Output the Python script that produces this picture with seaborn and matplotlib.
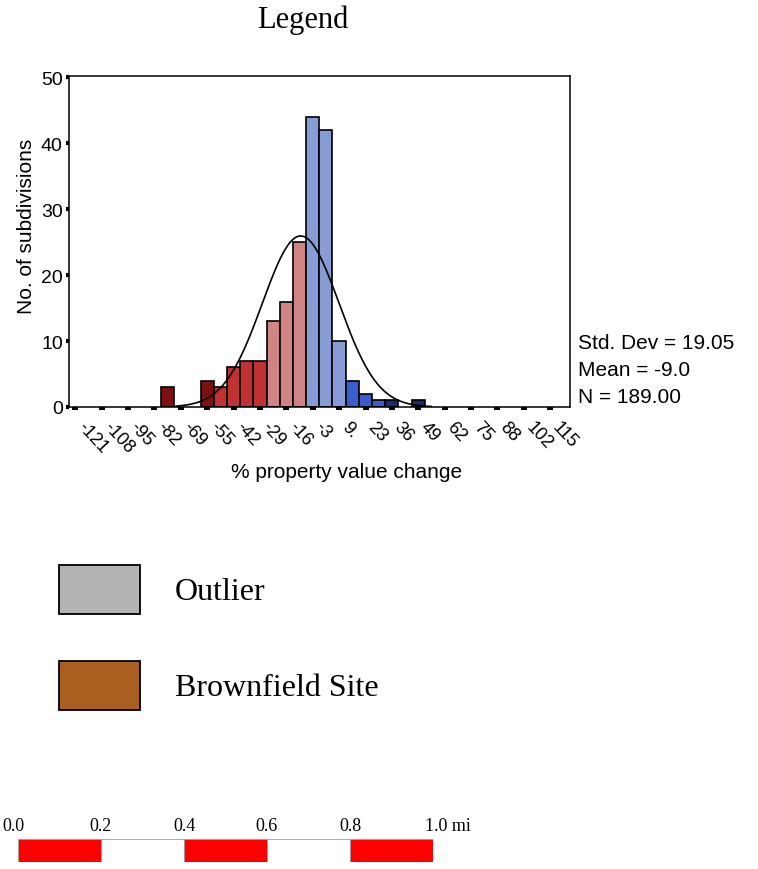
import numpy as np
import pandas as pd
import seaborn as sns
import matplotlib.pyplot as plt
from matplotlib.patches import Rectangle
from matplotlib.transforms import ScaledTranslation

# histogram bins (bin width 6.555, only non-empty bins listed)
bin_mid = [-75.1, -55.45, -48.9, -42.34, -35.79, -29.23, -22.68, -16.12, -9.57,
           -3.01, 3.55, 10.1, 16.66, 23.21, 29.77, 36.32, 49.43]
counts = [3, 4, 3, 6, 7, 7, 13, 16, 25, 44, 42, 10, 4, 2, 1, 1, 1]
bar_group = ['dark', 'dark', 'red', 'red', 'red', 'red', 'pink', 'pink', 'pink',
             'ltblue', 'ltblue', 'ltblue', 'blue', 'blue', 'blue', 'navy', 'navy']
group_colors = {'dark': '#7d1010', 'red': '#c03232', 'pink': '#d08484',
                'ltblue': '#879bd4', 'blue': '#3a5fcd', 'navy': '#162d6e'}
bin_width = 6.555
x_range = (-124.3, 124.79)

tick_vals = [-121.0, -107.89, -94.78, -81.67, -68.56, -55.45, -42.34, -29.23, -16.12,
             -3.01, 10.1, 23.21, 36.32, 49.43, 62.54, 75.65, 88.76, 101.87, 114.98]
tick_labels = ['-121', '-108', '-95', '-82', '-69', '-55', '-42', '-29', '-16', '-3',
               '9.', '23', '36', '49', '62', '75', '88', '102', '115']

std_dev = 19.05
mean = -9.0
n_obs = 189

legend_labels = ['Outlier', 'Brownfield Site']
legend_colors = ['#b4b4b4', '#a95f1f']

scale_ticks = [0.0, 0.2, 0.4, 0.6, 0.8, 1.0]
scale_labels = ['0.0', '0.2', '0.4', '0.6', '0.8', '1.0 mi']

sns.set_style('white')
plt.rcParams['font.family'] = ['Liberation Sans', 'DejaVu Sans']
plt.rcParams['text.color'] = 'black'
plt.rcParams['axes.labelcolor'] = 'black'
plt.rcParams['xtick.color'] = 'black'
plt.rcParams['ytick.color'] = 'black'

fig = plt.figure(figsize=(7.58, 8.70), dpi=100)
ax = fig.add_axes([68.6 / 758, 1 - 408 / 870, 501.4 / 758, 331 / 870])

df = pd.DataFrame({'mid': bin_mid, 'count': counts, 'group': bar_group})
sns.histplot(data=df, x='mid', weights='count', binwidth=bin_width, binrange=x_range,
             ax=ax, edgecolor='black', linewidth=1.2, alpha=1)

# colour each bar by its class
for p in ax.patches:
    c = p.get_x() + p.get_width() / 2
    hit = [g for m, g in zip(bin_mid, bar_group) if abs(m - c) < 1]
    if hit and p.get_height() > 0:
        p.set_facecolor(group_colors[hit[0]])
    else:
        p.set_visible(False)

# normal curve
xs = np.linspace(-71, 56, 300)
ys = n_obs * bin_width * np.exp(-0.5 * ((xs - mean) / std_dev) ** 2) / (std_dev * np.sqrt(2 * np.pi))
sns.lineplot(x=xs, y=ys, color='black', linewidth=1.2, ax=ax)

ax.set_xlim(x_range)
ax.set_ylim(0, 50.2)
ax.set_xticks(tick_vals, tick_labels)
ax.set_yticks([0, 10, 20, 30, 40, 50])
for s in ax.spines.values():
    s.set_visible(True)
    s.set_color('black')
    s.set_linewidth(1.1)
ax.tick_params(axis='x', bottom=True, direction='out', length=2.5, width=4.3, pad=10, labelsize=13)
ax.tick_params(axis='y', left=True, direction='out', length=2.2, width=3, pad=2, labelsize=14)
off = ScaledTranslation(5 / 100, 0, fig.dpi_scale_trans)
for lbl in ax.get_xticklabels():
    lbl.set_rotation(-47)
    lbl.set_ha('left')
    lbl.set_va('center')
    lbl.set_rotation_mode('anchor')
    lbl.set_transform(lbl.get_transform() + off)

ax.set_xlabel('% property value change', fontsize=15)
ax.set_ylabel('No. of subdivisions', fontsize=15)
ax.xaxis.label.set_va('center')
ax.yaxis.label.set_va('center')
ax.xaxis.set_label_coords((347 - 68.6) / 501.4, -(472 - 408) / 331)
ax.yaxis.set_label_coords((27 - 68.6) / 501.4, (408 - 226) / 331)

stats = ['Std. Dev = %.2f' % std_dev, 'Mean = %.1f' % mean, 'N = %.2f' % n_obs]
for i, s in enumerate(stats):
    fig.text(578 / 758, 1 - (349 + 27 * i) / 870, s, fontsize=15, va='baseline')

# overlay in pixel coordinates for legend part
ov = fig.add_axes([0, 0, 1, 1])
ov.set_xlim(0, 758)
ov.set_ylim(870, 0)
ov.axis('off')
ov.text(303, 28, 'Legend', fontsize=22, family='Liberation Serif', ha='center', va='baseline')
for i, (lab, col) in enumerate(zip(legend_labels, legend_colors)):
    y0 = 566 + 96 * i
    ov.add_patch(Rectangle((59, y0), 81, 49, facecolor=col, edgecolor='black', linewidth=1.3))
    ov.text(175, y0 + 34, lab, fontsize=23, family='Liberation Serif', va='baseline')

# scale bar
sb = fig.add_axes([18 / 758, 1 - 863 / 870, 415 / 758, 23 / 870])
sb.set_xlim(0, 1)
sb.set_ylim(0, 1)
sb.axis('off')
seg_colors = ['red' if i % 2 == 0 else 'white' for i in range(len(scale_ticks) - 1)]
sb.bar(scale_ticks[:-1], 1, width=0.2, align='edge', color=seg_colors,
       edgecolor='#a0a0a0', linewidth=0.6)
for v, lab in zip(scale_ticks, scale_labels):
    if lab.endswith('mi'):
        sb.text(v - 0.02, 1 + 9 / 23, lab, fontsize=13, family='Liberation Serif',
                ha='left', va='baseline', clip_on=False)
    else:
        sb.text(v - (0.012 if v == 0 else 0), 1 + 9 / 23, lab, fontsize=13,
                family='Liberation Serif', ha='center', va='baseline', clip_on=False)

fig.savefig('out.png', dpi=100)
